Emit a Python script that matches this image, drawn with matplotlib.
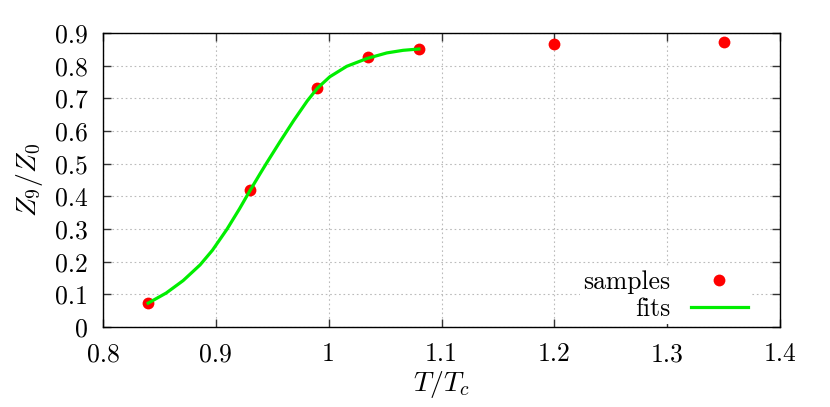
import numpy as np
import matplotlib
matplotlib.use("Agg")
import matplotlib.pyplot as plt
from matplotlib.ticker import FuncFormatter

plt.rcParams['font.family'] = 'serif'
plt.rcParams['font.serif'] = ['cmr10']
plt.rcParams['mathtext.fontset'] = 'cm'
plt.rcParams['axes.formatter.use_mathtext'] = True

# measured samples
sample_t = [0.84, 0.93, 0.99, 1.035, 1.08, 1.2, 1.35]
sample_z = [0.073, 0.418, 0.733, 0.826, 0.850, 0.865, 0.872]

# fit curve
fit_t = [0.84, 0.856, 0.871, 0.886, 0.897, 0.91, 0.921, 0.93, 0.939, 0.945,
         0.957, 0.969, 0.981, 0.99, 1.001, 1.016, 1.034, 1.0515, 1.066, 1.08]
fit_z = [0.073, 0.104, 0.142, 0.19, 0.235, 0.30, 0.362, 0.416, 0.468, 0.502,
         0.568, 0.632, 0.692, 0.731, 0.766, 0.798, 0.822, 0.839, 0.847, 0.851]

xticks = [0.8, 0.9, 1.0, 1.1, 1.2, 1.3, 1.4]
yticks = [0, 0.1, 0.2, 0.3, 0.4, 0.5, 0.6, 0.7, 0.8, 0.9]

fig = plt.figure(figsize=(8.3, 4.07), dpi=100)
ax = fig.add_axes([103 / 830, 1 - 327 / 407, 677 / 830, 294 / 407])

ax.plot(sample_t, sample_z, 'o', color='#ff0000', markersize=8.5,
        markeredgewidth=0, label='samples', zorder=3)
ax.plot(fit_t, fit_z, '-', color='#00ee00', linewidth=2.3, label='fits',
        zorder=4, solid_joinstyle='round')

ax.set_xlim(0.8, 1.4)
ax.set_ylim(0, 0.9)
ax.set_xticks(xticks)
ax.set_yticks(yticks)
fmt = FuncFormatter(lambda v, p: '%g' % round(v, 3))
ax.xaxis.set_major_formatter(fmt)
ax.yaxis.set_major_formatter(fmt)
ax.tick_params(direction='in', length=6, width=1, top=True, right=True,
               labelsize=18.5, color='#333333')
ax.tick_params(axis='x', pad=11)
ax.tick_params(axis='y', pad=11)
ax.grid(True, linestyle=(0, (1.5, 2.5)), color='#bbbbbb', linewidth=0.8)
ax.set_axisbelow(True)
for s in ax.spines.values():
    s.set_linewidth(1.0)

ax.set_xlabel(r'$T/T_c$', fontsize=20, labelpad=2)
ax.set_ylabel(r'$Z_9/Z_0$', fontsize=20, labelpad=7)

leg = ax.legend(loc='lower right', bbox_to_anchor=(0.977, -0.035), markerfirst=False,
                frameon=True, fancybox=False, framealpha=1, edgecolor='none',
                fontsize=18.5, handlelength=2.2, handletextpad=0.8,
                labelspacing=0.1, borderpad=0.15, numpoints=1)
leg.get_frame().set_linewidth(0)
leg.set_zorder(2)
for t in leg.get_texts():
    t.set_ha('right')

fig.savefig('out.png', dpi=100)
